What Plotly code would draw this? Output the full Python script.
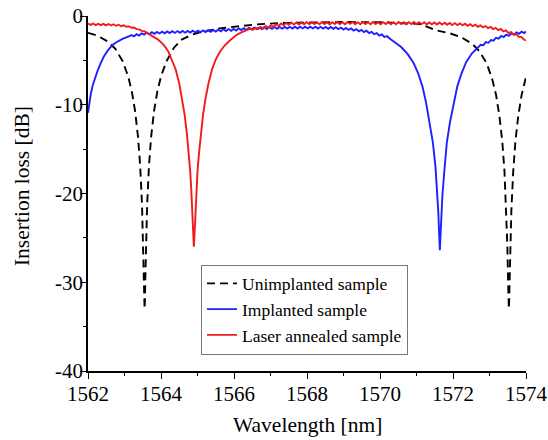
import plotly.graph_objects as go

# ---------------- data ----------------
unimplanted_x = [
    1562.00, 1562.25, 1562.55, 1562.75, 1562.95, 1563.10, 1563.20, 1563.29, 1563.37, 1563.43,
    1563.48, 1563.51, 1563.53, 1563.54, 1563.55, 1563.56, 1563.57, 1563.59, 1563.62, 1563.67,
    1563.73, 1563.81, 1563.90, 1564.00, 1564.15, 1564.35, 1564.55, 1564.85, 1565.15, 1565.60,
    1566.10, 1566.60, 1567.20, 1568.00, 1569.00, 1570.00, 1570.70, 1571.10, 1571.53, 1571.93,
    1572.23, 1572.53, 1572.73, 1572.93, 1573.08, 1573.18, 1573.27, 1573.35, 1573.41, 1573.46,
    1573.49, 1573.51, 1573.52, 1573.53, 1573.54, 1573.55, 1573.57, 1573.60, 1573.65, 1573.71,
    1573.79, 1573.88, 1573.98, 1574.00]
unimplanted_y = [
    -1.9, -2.2, -2.9, -3.7, -5.1, -6.8, -8.5, -10.7, -13.6, -16.9,
    -21.3, -25.6, -29.7, -31.9, -33.0, -31.9, -29.7, -25.6, -21.3, -16.9,
    -13.6, -10.7, -8.5, -6.8, -5.1, -3.6, -2.7, -2.1, -1.75, -1.4,
    -1.15, -0.95, -0.8, -0.72, -0.68, -0.7, -0.78, -0.9, -1.6, -1.97,
    -2.4, -3.15, -4.0, -5.4, -7.2, -8.9, -11.2, -14.1, -17.5, -21.8,
    -26.0, -30.0, -32.0, -33.0, -32.0, -30.0, -26.0, -21.8, -17.5, -14.1,
    -11.2, -8.9, -7.2, -6.9]

implanted_x = [
    1562.00, 1562.04, 1562.08, 1562.13, 1562.19, 1562.26, 1562.34, 1562.43, 1562.54, 1562.66,
    1562.80, 1562.96, 1563.12,
    1563.19, 1563.26, 1563.33, 1563.40, 1563.47, 1563.54, 1563.61, 1563.68, 1563.75, 1563.82,
    1563.89, 1563.96, 1564.03, 1564.10, 1564.17, 1564.24, 1564.31, 1564.38, 1564.45, 1564.52,
    1564.59, 1564.66, 1564.73, 1564.80, 1564.87, 1564.94, 1565.01, 1565.08, 1565.15, 1565.22,
    1565.29, 1565.36, 1565.43, 1565.50, 1565.57, 1565.64, 1565.71, 1565.78, 1565.85, 1565.92,
    1565.99, 1566.06, 1566.13, 1566.20, 1566.27, 1566.34, 1566.41, 1566.48, 1566.55, 1566.62,
    1566.69, 1566.76, 1566.83, 1566.90, 1566.97, 1567.04, 1567.11, 1567.18, 1567.25, 1567.32,
    1567.39, 1567.46, 1567.53, 1567.60, 1567.67, 1567.74, 1567.81, 1567.88, 1567.95, 1568.02,
    1568.09, 1568.16, 1568.23, 1568.30, 1568.37, 1568.44, 1568.51, 1568.58, 1568.65, 1568.72,
    1568.79, 1568.86, 1568.93, 1569.00, 1569.07, 1569.14, 1569.21, 1569.28, 1569.35, 1569.42,
    1569.49, 1569.56, 1569.63, 1569.70, 1569.77, 1569.84, 1569.91, 1569.98, 1570.05, 1570.12,
    1570.19,
    1570.30, 1570.38, 1570.58, 1570.76, 1570.92, 1571.04, 1571.16, 1571.26, 1571.36, 1571.45,
    1571.52, 1571.57, 1571.60, 1571.62, 1571.64, 1571.66, 1571.68, 1571.71, 1571.76, 1571.83,
    1571.92, 1572.02, 1572.12, 1572.24, 1572.36, 1572.52, 1572.69,
    1572.76, 1572.83, 1572.90, 1572.97, 1573.04, 1573.11, 1573.18, 1573.25, 1573.32, 1573.39,
    1573.46, 1573.53, 1573.60, 1573.67, 1573.74, 1573.81, 1573.88, 1573.95, 1574.00]
implanted_y = [
    -10.9, -9.7, -8.7, -7.8, -7.0, -6.2, -5.4, -4.6, -3.9, -3.3,
    -2.9, -2.55, -2.3,
    -2.15, -2.30, -2.05, -2.20, -1.95, -2.10, -1.87, -2.05, -1.83, -2.01,
    -1.79, -1.97, -1.76, -1.95, -1.74, -1.93, -1.72, -1.91, -1.70, -1.90,
    -1.69, -1.88, -1.68, -1.87, -1.66, -1.85, -1.65, -1.84, -1.62, -1.81,
    -1.60, -1.78, -1.57, -1.75, -1.54, -1.72, -1.50, -1.69, -1.47, -1.66,
    -1.45, -1.63, -1.41, -1.59, -1.37, -1.55, -1.33, -1.51, -1.30, -1.49,
    -1.28, -1.47, -1.26, -1.46, -1.25, -1.45, -1.24, -1.44, -1.23, -1.43,
    -1.23, -1.42, -1.22, -1.42, -1.21, -1.41, -1.20, -1.40, -1.20, -1.40,
    -1.20, -1.40, -1.21, -1.41, -1.22, -1.42, -1.23, -1.44, -1.24, -1.45,
    -1.26, -1.48, -1.30, -1.52, -1.34, -1.57, -1.40, -1.64, -1.48, -1.72,
    -1.56, -1.81, -1.66, -1.92, -1.78, -2.05, -1.92, -2.20, -2.08, -2.37,
    -2.27,
    -2.65, -2.9, -3.5, -4.3, -5.3, -6.4, -7.9, -9.7, -11.9, -14.3,
    -17.0, -19.8, -22.3, -24.5, -26.4, -24.5, -22.3, -20.2, -17.6, -14.3,
    -11.9, -9.7, -7.9, -6.4, -5.2, -4.2, -3.5,
    -3.25, -3.30, -2.95, -3.02, -2.70, -2.78, -2.45, -2.55, -2.25, -2.37,
    -2.10, -2.23, -1.96, -2.10, -1.85, -2.00, -1.76, -1.92, -1.75]

annealed_x = [
    1562.00, 1562.07, 1562.14, 1562.21, 1562.28, 1562.35, 1562.42, 1562.49, 1562.56, 1562.63,
    1562.70, 1562.77, 1562.84, 1562.91, 1562.98, 1563.05, 1563.12, 1563.19, 1563.26, 1563.33,
    1563.40, 1563.47, 1563.54, 1563.61,
    1563.70, 1563.80, 1563.90, 1564.00, 1564.10, 1564.20, 1564.30, 1564.40, 1564.50, 1564.58,
    1564.65, 1564.71, 1564.76, 1564.80, 1564.83, 1564.86, 1564.88, 1564.90, 1564.92, 1564.94,
    1564.97, 1565.00, 1565.04, 1565.09, 1565.15, 1565.22, 1565.30, 1565.40, 1565.50, 1565.62,
    1565.75, 1565.90, 1566.05, 1566.20, 1566.35,
    1566.45, 1566.52, 1566.59, 1566.66, 1566.73, 1566.80, 1566.87, 1566.94, 1567.01, 1567.08,
    1567.15, 1567.22, 1567.29, 1567.36, 1567.43, 1567.50, 1567.57, 1567.64, 1567.71, 1567.78,
    1567.85, 1567.92, 1567.99, 1568.06, 1568.13, 1568.20, 1568.27, 1568.34, 1568.41, 1568.48,
    1568.55, 1568.62, 1568.69, 1568.76, 1568.83, 1568.90, 1568.97, 1569.04, 1569.11, 1569.18,
    1569.25, 1569.32, 1569.39, 1569.46, 1569.53, 1569.60, 1569.67, 1569.74, 1569.81, 1569.88,
    1569.95, 1570.02, 1570.09, 1570.16, 1570.23, 1570.30, 1570.37, 1570.44, 1570.51, 1570.58,
    1570.65, 1570.72, 1570.79, 1570.86, 1570.93, 1571.00, 1571.07, 1571.14, 1571.21, 1571.28,
    1571.35, 1571.42, 1571.49, 1571.56, 1571.63, 1571.70, 1571.77, 1571.84, 1571.91, 1571.98,
    1572.05, 1572.12, 1572.19, 1572.26, 1572.33, 1572.40, 1572.47, 1572.54, 1572.61, 1572.68,
    1572.75, 1572.82, 1572.89, 1572.96, 1573.03, 1573.10, 1573.17, 1573.24, 1573.31, 1573.38,
    1573.45, 1573.52, 1573.59, 1573.66, 1573.73, 1573.80, 1573.87, 1573.94, 1574.00]
annealed_y = [
    -0.85, -1.00, -0.85, -1.02, -0.88, -1.03, -0.88, -1.05, -0.90, -1.07,
    -0.93, -1.10, -0.98, -1.15, -1.05, -1.22, -1.15, -1.32, -1.30, -1.48,
    -1.50, -1.68, -1.72, -1.90,
    -2.05, -2.3, -2.6, -2.95, -3.4, -4.0, -4.9, -6.0, -7.6, -9.3,
    -11.2, -13.3, -15.5, -17.5, -19.6, -22.5, -24.5, -26.0, -24.5, -22.5,
    -19.6, -17.5, -15.5, -13.3, -11.2, -9.3, -7.6, -6.0, -4.9, -4.0,
    -3.3, -2.7, -2.2, -1.85, -1.6,
    -1.42, -1.56, -1.32, -1.48, -1.24, -1.42, -1.13, -1.32, -1.03, -1.22,
    -0.93, -1.12, -0.84, -1.05, -0.78, -1.00, -0.74, -0.97, -0.72, -0.95,
    -0.70, -0.94, -0.69, -0.93, -0.68, -0.90, -0.70, -0.94, -0.67, -0.91,
    -0.69, -0.95, -0.70, -0.90, -0.66, -0.92, -0.70, -0.93, -0.68, -0.89,
    -0.67, -0.92, -0.70, -0.94, -0.68, -0.90, -0.69, -0.93, -0.67, -0.91,
    -0.70, -0.94, -0.69, -0.90, -0.68, -0.93, -0.70, -0.92, -0.68, -0.91,
    -0.70, -0.94, -0.69, -0.90, -0.68, -0.93, -0.71, -0.92, -0.70, -0.95,
    -0.72, -0.93, -0.73, -0.96, -0.74, -0.97, -0.76, -0.99, -0.78, -1.01,
    -0.80, -1.03, -0.83, -1.06, -0.87, -1.10, -0.92, -1.15, -0.98, -1.22,
    -1.05, -1.29, -1.13, -1.37, -1.22, -1.47, -1.33, -1.59, -1.46, -1.73,
    -1.62, -1.90, -1.82, -2.10, -2.05, -2.35, -2.35, -2.65, -2.75]

series_names = ["Unimplanted sample", "Implanted sample", "Laser annealed sample"]

x_tick_vals = [1562, 1564, 1566, 1568, 1570, 1572, 1574]
x_tick_text = ["1562", "1564", "1566", "1568", "1570", "1572", "1574"]
y_tick_vals = [-40, -30, -20, -10, 0]
y_tick_text = ["-40", "-30", "-20", "-10", "0"]
x_title = "Wavelength [nm]"
y_title = "Insertion loss [dB]"

# ---------------- figure ----------------
FONT = "Liberation Serif, Times New Roman, serif"

fig = go.Figure()
fig.add_trace(go.Scatter(x=unimplanted_x, y=unimplanted_y, mode="lines", name=series_names[0],
                         line=dict(color="black", width=1.9, dash="8px,5px")))
fig.add_trace(go.Scatter(x=implanted_x, y=implanted_y, mode="lines", name=series_names[1],
                         line=dict(color="#1f1fff", width=1.9)))
fig.add_trace(go.Scatter(x=annealed_x, y=annealed_y, mode="lines", name=series_names[2],
                         line=dict(color="#f01c1c", width=1.9)))

axis_common = dict(
    showline=True, linecolor="black", linewidth=1.5, mirror=False,
    showgrid=False, zeroline=False, automargin=False,
    ticks="outside", ticklen=6, tickwidth=1.3, tickcolor="black",
    ticklabelposition="outside", ticklabeloverflow="allow",
    tickfont=dict(family=FONT, size=21, color="black"),
)

fig.update_layout(
    width=548, height=440,
    margin=dict(l=88, r=22, t=16, b=69),
    paper_bgcolor="white", plot_bgcolor="white",
    font=dict(family=FONT, color="black"),
    showlegend=True,
    legend=dict(x=0.258, y=0.30, xanchor="left", yanchor="top",
                bordercolor="#777777", borderwidth=1, bgcolor="white",
                font=dict(family=FONT, size=17.5, color="black"),
                tracegroupgap=0, itemwidth=30),
    xaxis=dict(range=[1562, 1574], tickvals=x_tick_vals, ticktext=x_tick_text,
               minor=dict(dtick=1, ticklen=3, tickcolor="black", ticks="outside"),
               ticklabelstandoff=-3,
               **axis_common),
    yaxis=dict(range=[-40, 0], tickvals=y_tick_vals, ticktext=y_tick_text,
               minor=dict(dtick=5, ticklen=3, tickcolor="black", ticks="outside"),
               ticklabelstandoff=-7,
               **axis_common),
    annotations=[
        dict(text=x_title, xref="paper", yref="paper", x=0.5, y=-0.152,
             xanchor="center", yanchor="middle", showarrow=False,
             font=dict(family=FONT, size=21.5, color="black")),
        dict(text=y_title, xref="paper", yref="paper", x=-0.1507, y=0.521,
             xanchor="center", yanchor="middle", showarrow=False, textangle=-90,
             font=dict(family=FONT, size=21.5, color="black")),
    ],
)

# remove the browser's default 8px page margin so the figure sits at the window origin
fig.write_html("out.html", config={"displayModeBar": False},
               post_script="document.body.style.margin='0px';")
